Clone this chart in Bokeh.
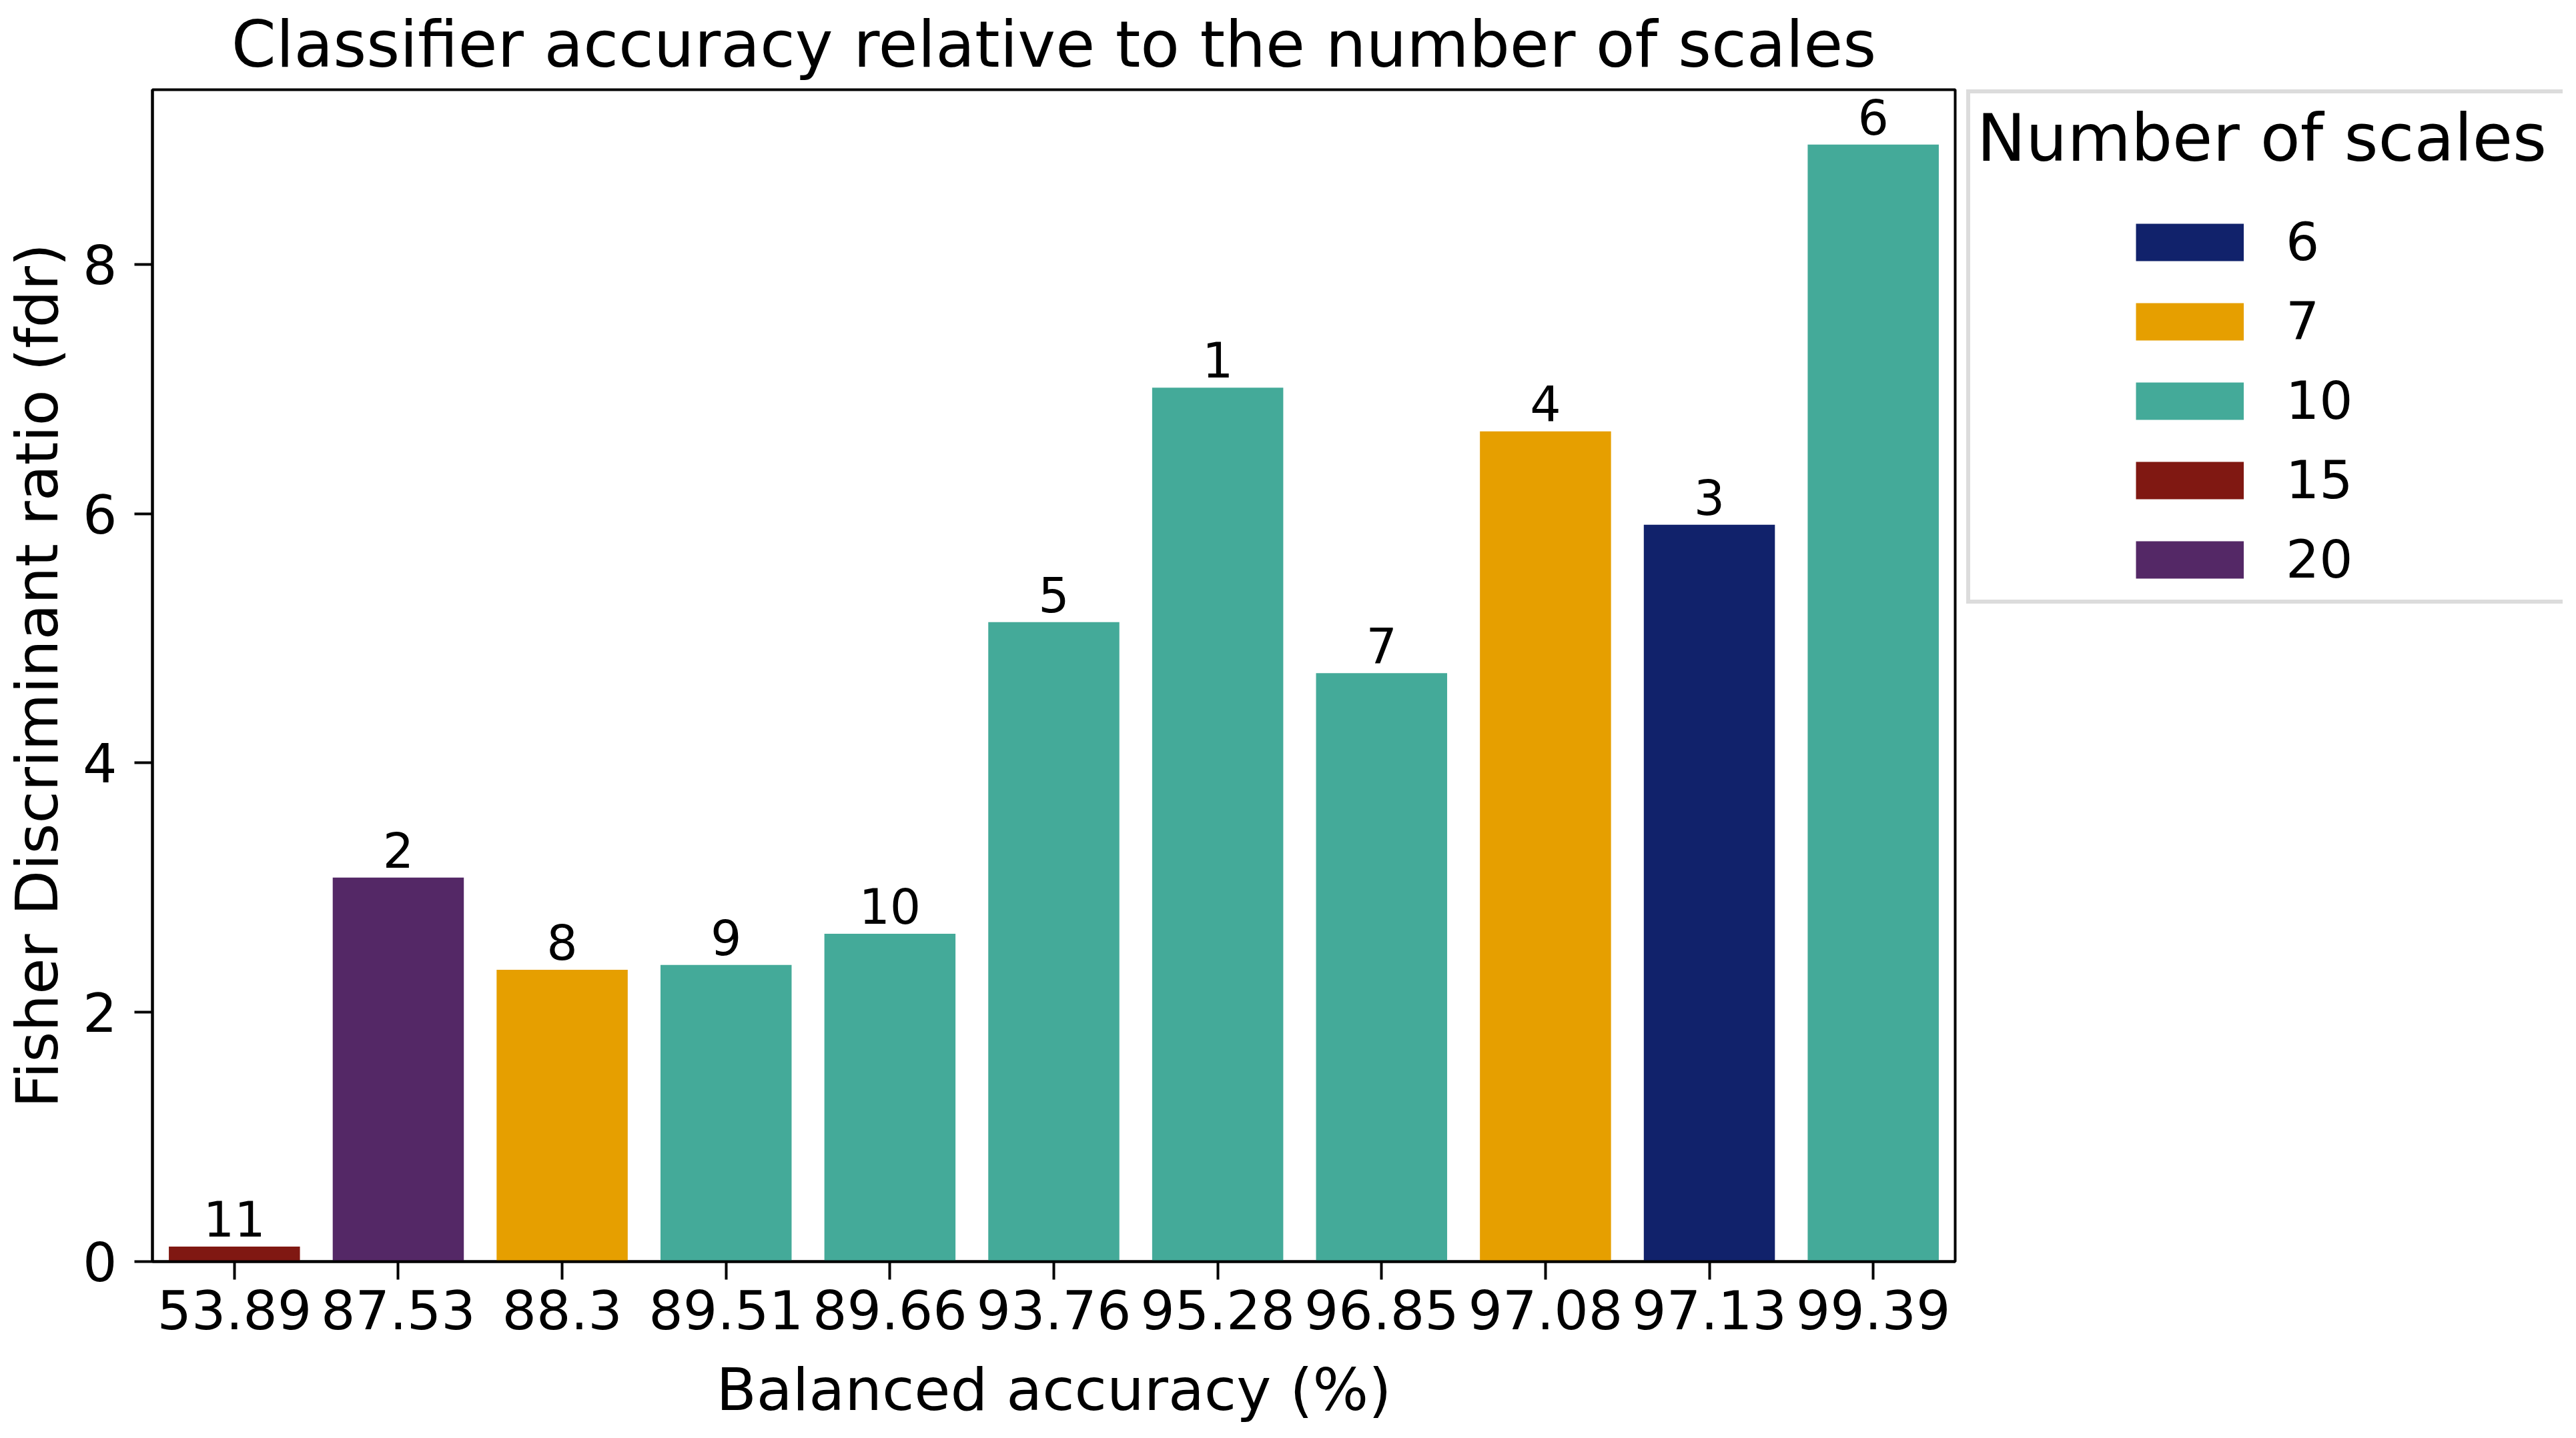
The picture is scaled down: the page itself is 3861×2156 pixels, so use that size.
from bokeh.plotting import figure
from bokeh.models import (ColumnDataSource, FactorRange, Range1d, FixedTicker,
                          LabelSet, Legend, LegendItem)
from bokeh.core.properties import value
from bokeh.transform import factor_cmap
from bokeh.layouts import row
from bokeh.embed import file_html
from bokeh.resources import INLINE

# ---- data ----
accuracy_labels = ["53.89", "87.53", "88.3", "89.51", "89.66", "93.76",
                   "95.28", "96.85", "97.08", "97.13", "99.39"]
fdr_values = [0.12, 3.08, 2.34, 2.38, 2.63, 5.13, 7.01, 4.72, 6.66, 5.91, 8.96]
num_scales = ["15", "20", "7", "10", "10", "10", "10", "10", "7", "6", "10"]
rank_labels = ["11", "2", "8", "9", "10", "5", "1", "7", "4", "3", "6"]
scale_groups = ["6", "7", "10", "15", "20"]
group_colors = ["#11226b", "#e69f00", "#44aa99", "#801812", "#542866"]
y_ticks = [0, 2, 4, 6, 8]

FONT = "DejaVu Sans"
H = 2146

src = ColumnDataSource(dict(acc=accuracy_labels, fdr=fdr_values,
                            scales=num_scales, rank=rank_labels))

p = figure(x_range=FactorRange(factors=accuracy_labels), y_range=Range1d(0, 9.4),
           width=2942, height=H, output_backend="svg", toolbar_location=None,
           min_border_left=226, min_border_right=12, min_border_top=133,
           min_border_bottom=255,
           title="Classifier accuracy relative to the number of scales")

p.vbar(x="acc", top="fdr", width=0.8, source=src, line_color=None,
       fill_color=factor_cmap("scales", group_colors, scale_groups))

p.add_layout(LabelSet(x="acc", y="fdr", text="rank", source=src, y_offset=15,
                      text_align="center", text_baseline="alphabetic",
                      text_font_size="73px", text_font=value(FONT),
                      text_color="black"))

p.title.text_font = FONT
p.title.text_font_size = "96px"
p.title.text_font_style = "normal"
p.title.align = "center"
p.title.vertical_align = "top"
p.title.standoff = 20
p.title.text_color = "black"

p.grid.visible = False
p.outline_line_color = "black"
p.outline_line_width = 4
p.outline_line_alpha = 1.0

for ax in (p.xaxis[0], p.yaxis[0]):
    ax.axis_line_width = 4
    ax.axis_line_color = "black"
    ax.major_tick_line_width = 4
    ax.major_tick_line_color = "black"
    ax.major_tick_in = 0
    ax.major_tick_out = 27
    ax.minor_tick_line_color = None
    ax.major_label_text_font = FONT
    ax.major_label_text_font_size = "81px"
    ax.major_label_text_color = "black"
    ax.axis_label_text_font = FONT
    ax.axis_label_text_font_size = "88px"
    ax.axis_label_text_font_style = "normal"
    ax.axis_label_text_color = "black"

p.xaxis.axis_label = "Balanced accuracy (%)"
p.yaxis.axis_label = "Fisher Discriminant ratio (fdr)"
p.yaxis.ticker = FixedTicker(ticks=y_ticks)
p.xaxis.major_label_standoff = 15
p.yaxis.major_label_standoff = 26
p.xaxis.axis_label_standoff = 36
p.yaxis.axis_label_standoff = 14

# ---- legend panel (its frame lines up with the chart frame) ----
lg = figure(width=903, height=H, min_border_left=5, min_border_right=4,
            min_border_top=133, min_border_bottom=255,
            x_axis_location=None, y_axis_location=None,
            output_backend="svg", toolbar_location=None)
lg.grid.visible = False
lg.outline_line_color = None
lg.background_fill_color = None

items = []
for g, c in zip(scale_groups, group_colors):
    # a single-point line draws nothing in the panel; its legend swatch is a
    # thick butt-capped stroke, the dash pattern indents it under the title
    r = lg.line(x=fdr_values[:1], y=fdr_values[:1], line_color=c,
                line_width=56, line_cap="butt", line_dash="0 238 162 3000")
    items.append(LegendItem(label=g, renderers=[r]))

legend = Legend(items=items, location="top_left", title="Number of scales",
                title_text_font=FONT, title_text_font_size="98px",
                title_text_font_style="normal", title_text_color="black",
                title_standoff=49,
                glyph_width=400, glyph_height=100, label_height=100,
                label_width=407, spacing=19, padding=10, margin=0,
                label_standoff=63,
                border_line_color="#dcdcdc", border_line_width=6,
                border_line_alpha=1.0, background_fill_color="white",
                background_fill_alpha=1.0,
                label_text_font=FONT, label_text_font_size="79px",
                label_text_color="black")
lg.add_layout(legend, "center")

layout = row(p, lg)
open("out.html", "w").write(file_html(layout, INLINE))
